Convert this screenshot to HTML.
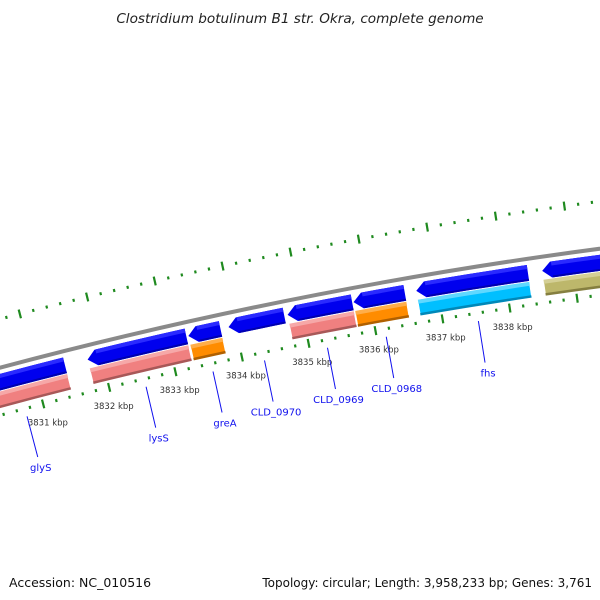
<!DOCTYPE html>
<html><head><meta charset="utf-8"><style>
body{margin:0;background:#fff;}
svg{display:block;}
text{font-family:"DejaVu Sans","Liberation Sans",sans-serif;}
</style></head><body>
<svg id="map" width="600" height="600" viewBox="0 0 600 600" xmlns="http://www.w3.org/2000/svg">
<rect width="600" height="600" fill="#fff"/>
<text x="300" y="23" text-anchor="middle" font-size="13.6" font-style="italic" fill="#222">Clostridium botulinum B1 str. Okra, complete genome</text>
<g id="layer"></g>
<text x="9" y="587" font-size="12.5" fill="#111">Accession: NC_010516</text>
<text x="592" y="587" text-anchor="end" font-size="12" fill="#111">Topology: circular; Length: 3,958,233 bp; Genes: 3,761</text>
</svg>
<script>
// data (kbp)
const geneNames = ["glyS","lysS","greA","CLD_0970","CLD_0969","CLD_0968","fhs","next-gene"];
const geneStarts = [3830.0,3831.79,3833.30,3833.90,3834.78,3835.76,3836.69,3838.55];
const geneEnds   = [3831.45,3833.27,3833.78,3834.73,3835.74,3836.52,3838.34,3840.5];
const geneTypes  = ["pink","pink","orange","none","pink","orange","cyan","khaki"];
const geneLabeled = [true,true,true,true,true,true,true,false];
const tickLabels = [3831,3832,3833,3834,3835,3836,3837,3838];

const cx=1220, cy=4948;
const A0=-14.52, K0=3831, DEG=0.831;
function ang(k){return A0+(k-K0)*DEG;}
function pt(r,a){const t=a*Math.PI/180;return [cx+r*Math.sin(t), cy-r*Math.cos(t)];}
function f(p){return p[0].toFixed(2)+","+p[1].toFixed(2);}
const NS="http://www.w3.org/2000/svg";
const layer=document.getElementById('layer');
function mk(tag,attrs){const e=document.createElementNS(NS,tag);for(const k in attrs)e.setAttribute(k,attrs[k]);layer.appendChild(e);return e;}
function band(r1,r2,a1,a2,arrow){
  const h=arrow?9:0, dh=h/((r1+r2)/2)*180/Math.PI;
  let d;
  if(arrow){
    const rm=(r1+r2)/2;
    d="M"+f(pt(rm,a1))+" L"+f(pt(r2,a1+dh))+" A"+r2+","+r2+" 0 0 1 "+f(pt(r2,a2))+
      " L"+f(pt(r1,a2))+" A"+r1+","+r1+" 0 0 0 "+f(pt(r1,a1+dh))+" Z";
  } else {
    d="M"+f(pt(r2,a1))+" A"+r2+","+r2+" 0 0 1 "+f(pt(r2,a2))+
      " L"+f(pt(r1,a2))+" A"+r1+","+r1+" 0 0 0 "+f(pt(r1,a1))+" Z";
  }
  return d;
}
// backbone
let e=mk('path',{d:"M"+f(pt(4740,-17))+" A4740,4740 0 0 1 "+f(pt(4740,-5)),fill:"none",stroke:"#8a8a8a","stroke-width":4});



// tick rings
for(let k=Math.round(3828*5);k<=3842*5;k++){
  const kb=k/5, a=ang(kb), major=(k%5===0);
  [4787,4694].forEach((r,i)=>{
    const L=major?4.5:1.5;
    const t=mk('line',{x1:pt(r-L,a)[0],y1:pt(r-L,a)[1],x2:pt(r+L,a)[0],y2:pt(r+L,a)[1],stroke:"#1f8a1f","stroke-width":2.2});
    
    
  });
}
tickLabels.forEach(k=>{
  const p=pt(4675,ang(k));
  const t=mk('text',{x:p[0],y:p[1]+3,"text-anchor":"middle","font-size":"8.5",fill:"#333"});
  t.textContent=k+" kbp";
  
  
});

const colors={pink:["#f08080","#f6a8a8","#a85858"],orange:["#ff8c00","#ffae4a","#b06000"],cyan:["#00bfff","#5fd8ff","#0088b8"],khaki:["#bdb76b","#d4cf95","#857f40"]};
geneNames.forEach((n,i)=>{
  const a1=ang(geneStarts[i]), a2=ang(geneEnds[i]);
  let g=mk('path',{d:band(4718,4734,a1,a2,true),fill:"#0000ee"});
  
  
  let hl=mk('path',{d:band(4730,4734,a1+0.12,a2,false),fill:"#2a2aff"});
  
  
  let sh=mk('path',{d:band(4718,4720,a1+0.12,a2,false),fill:"#0000b0"});
  
  
  const ty=geneTypes[i];
  if(ty!=="none"){
    const c=colors[ty];
    let b=mk('path',{d:band(4701,4717,a1,a2,false),fill:c[0],stroke:"#fff","stroke-width":0.6});
    
    
    let b2=mk('path',{d:band(4713,4717,a1,a2,false),fill:c[1]});
    
    
    let b3=mk('path',{d:band(4701,4703.5,a1,a2,false),fill:c[2]});
    
    
  }
  if(geneLabeled[i]){
    const am=ang((geneStarts[i]+geneEnds[i])/2);
    const p1=pt(4686,am), p2=pt(4644,am);
    let l=mk('line',{x1:p1[0],y1:p1[1],x2:p2[0],y2:p2[1],stroke:"#1010ee","stroke-width":1});
    
    
    let t=mk('text',{x:p2[0]+3,y:p2[1]+14,"text-anchor":"middle","font-size":"10","fill":"#1010ee"});
    t.textContent=n;
    
    
  }
});
</script>
</body></html>
